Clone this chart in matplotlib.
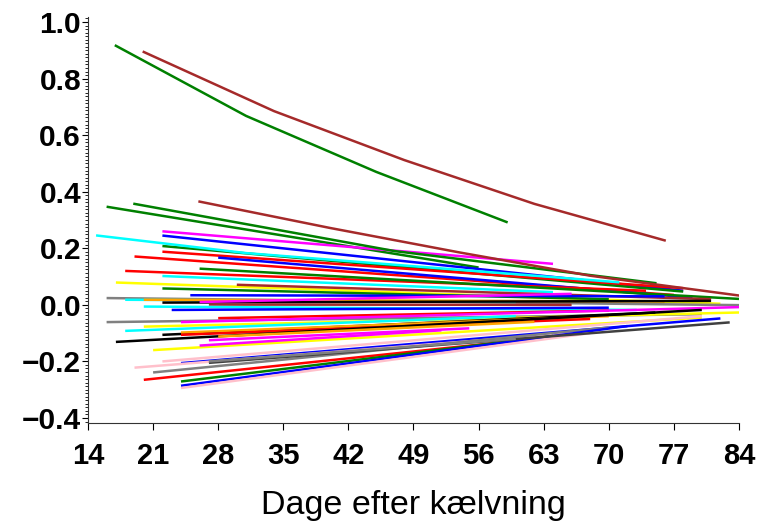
import numpy as np
import matplotlib.pyplot as plt
from matplotlib.ticker import MultipleLocator

# SAS-style colour names
RED, GREEN, BLUE, CYAN = '#FF0000', '#008000', '#0000FF', '#00FFFF'
MAGENTA, YELLOW, BLACK, BROWN = '#FF00FF', '#FFFF00', '#000000', '#A52A2A'
ORANGE, GRAY, PINK = '#FFA500', '#808080', '#FFC0CB'

# curved profiles (day, value)
green_top_days = [17, 31, 45, 59]
green_top_vals = [0.916, 0.668, 0.470, 0.293]
brown_top_days = [20, 34, 48, 62, 76]
brown_top_vals = [0.894, 0.685, 0.512, 0.357, 0.228]
brown_mid_days = [26, 40, 54, 68, 84]
brown_mid_vals = [0.365, 0.272, 0.185, 0.103, 0.033]
green_mid_days = [19, 47, 75]
green_mid_vals = [0.357, 0.190, 0.077]
cyan_top_days = [15, 31, 71]
cyan_top_vals = [0.245, 0.183, 0.080]

# straight profiles: start day, end day, start value, end value, colour
day_start = [16, 22, 22, 22, 22, 19, 28, 18, 26, 22, 17, 22, 30, 25, 16, 18,
             20, 22, 26, 27, 20, 23, 16, 28, 24, 20, 18, 22, 24, 24, 17, 27,
             28, 21, 26, 22, 24, 19, 21, 20, 24, 24, 24, 27, 27]
day_end = [56, 64, 78, 78, 78, 77, 79, 74, 84, 64, 82, 70, 81, 76, 84, 60,
           76, 81, 66, 66, 73, 70, 80, 70, 84, 84, 60, 75, 70, 68, 80, 55,
           62, 80, 52, 80, 82, 66, 70, 62, 64, 72, 68, 83, 60]
val_start = [0.347, 0.260, 0.245, 0.208, 0.188, 0.171, 0.167, 0.120, 0.128,
             0.102, 0.079, 0.058, 0.071, 0.034, 0.024, 0.018, 0.018, 0.008,
             0.010, 0.001, -0.006, -0.018, -0.061, -0.047, -0.061, -0.077,
             -0.092, -0.106, -0.098, -0.106, -0.131, -0.125, -0.112, -0.160,
             -0.144, -0.200, -0.206, -0.222, -0.239, -0.265, -0.271, -0.286,
             -0.294, -0.205, -0.200]
val_end = [0.132, 0.145, 0.050, 0.047, 0.059, 0.035, 0.025, 0.050, 0.021,
           0.045, 0.004, 0.020, 0.020, 0.030, -0.001, 0.010, 0.012, 0.014,
           0.039, 0.000, -0.018, -0.010, -0.033, -0.020, -0.008, -0.027,
           -0.040, -0.027, -0.040, -0.050, -0.018, -0.083, -0.060, -0.045,
           -0.090, -0.040, -0.048, -0.100, -0.080, -0.120, -0.110, -0.075,
           -0.100, -0.062, -0.120]
line_colors = [GREEN, MAGENTA, BLUE, GREEN, RED, RED, BLUE, RED, GREEN,
               CYAN, YELLOW, GREEN, BROWN, BLUE, GRAY, CYAN, ORANGE, BLACK,
               MAGENTA, BROWN, CYAN, BLUE, GRAY, RED, MAGENTA, YELLOW, CYAN,
               BLACK, ORANGE, RED, BLACK, MAGENTA, ORANGE, YELLOW, MAGENTA,
               PINK, BLUE, PINK, GRAY, RED, GREEN, BLUE, PINK, '#404040', GRAY]

xticks = [14, 21, 28, 35, 42, 49, 56, 63, 70, 77, 84]
yticks = [-0.4, -0.2, 0.0, 0.2, 0.4, 0.6, 0.8, 1.0]

plt.rcParams['font.family'] = ['Liberation Sans', 'DejaVu Sans']

fig = plt.figure(figsize=(7.62, 5.26), dpi=100)
ax = fig.add_axes([88/762., 1-423/526., 651/762., 406/526.])

lw = 1.8
for d0, d1, v0, v1, c in zip(day_start, day_end, val_start, val_end, line_colors):
    ax.plot([d0, d1], [v0, v1], color=c, lw=lw, solid_capstyle='butt')

ax.plot(cyan_top_days, cyan_top_vals, color=CYAN, lw=lw)
ax.plot(green_mid_days, green_mid_vals, color=GREEN, lw=lw)
ax.plot(brown_mid_days, brown_mid_vals, color=BROWN, lw=lw)
ax.plot(green_top_days, green_top_vals, color=GREEN, lw=lw)
ax.plot(brown_top_days, brown_top_vals, color=BROWN, lw=lw)

ax.set_xlim(14, 84)
ax.set_ylim(-0.4177, 1.0177)
ax.set_xticks(xticks)
ax.set_xticklabels([str(t) for t in xticks], fontsize=21, fontweight='bold')
ax.set_yticks(yticks)
ax.set_yticklabels([('%.1f' % t).replace('-', '\u2212') for t in yticks],
                   fontsize=21.5, fontweight='bold')
ax.yaxis.set_minor_locator(MultipleLocator(0.0125))
ax.tick_params(axis='y', which='major', length=4, width=0.8, pad=1)
ax.tick_params(axis='y', which='minor', length=2, width=0.6)
ax.tick_params(axis='x', which='major', length=5, width=0.8, pad=9)
ax.set_xlabel('Dage efter kælvning', fontsize=24.5, labelpad=14)

for s in ['top', 'right']:
    ax.spines[s].set_visible(False)
for s in ['left', 'bottom']:
    ax.spines[s].set_linewidth(0.8)
    ax.spines[s].set_color('#333333')

fig.savefig('out.png', dpi=100)
